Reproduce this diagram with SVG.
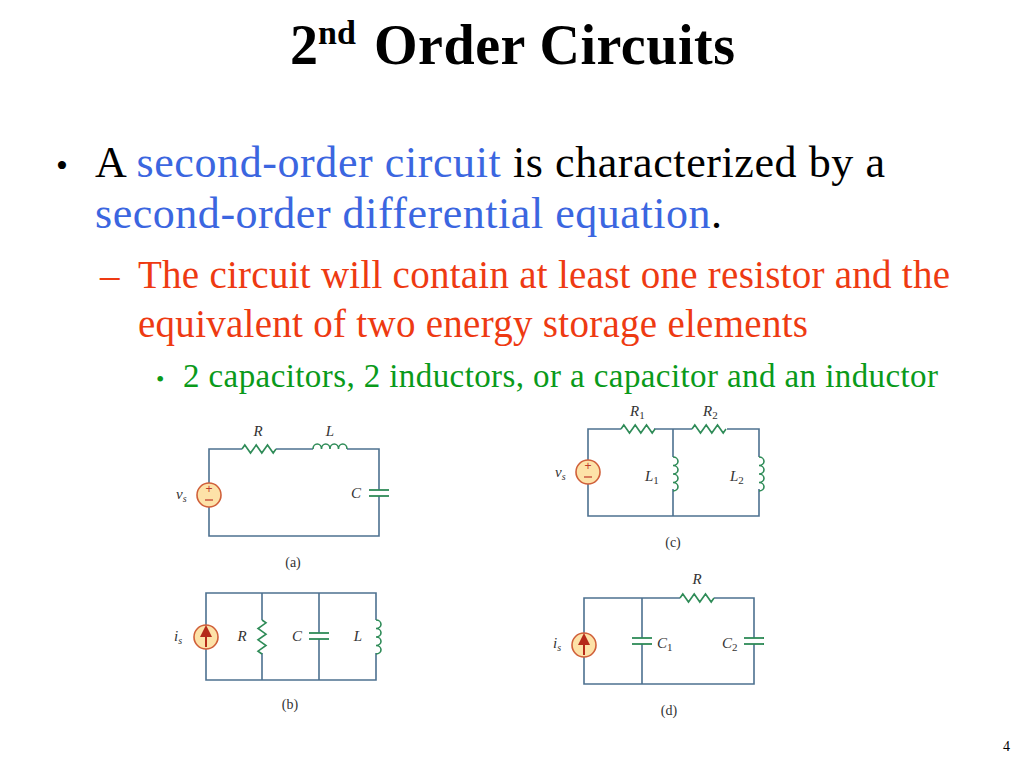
<svg xmlns="http://www.w3.org/2000/svg" width="1024" height="768" viewBox="0 0 1024 768">
<style>
.w{fill:none;stroke:#4d7190;stroke-width:1.6}
.c{fill:none;stroke:#2e8b57;stroke-width:1.6}
.p{stroke:#2e8b57;stroke-width:1.8}
.src{fill:#fde2a8;stroke:#d0603a;stroke-width:1.6}
.lb{font-family:"Liberation Serif",serif;font-style:italic;font-size:15px;fill:#333}
.sb{font-style:normal;font-size:11px}
.cap{font-family:"Liberation Serif",serif;font-size:14px;fill:#333}
.t{font-family:"Liberation Serif",serif}
</style>
<defs>
<path id="res" class="c" d="M0,0 L2.8,-4 L8.5,4 L14.2,-4 L19.8,4 L25.5,-4 L31.2,4 L34,0"/>
<path id="ind" class="c" d="M0,0 a4.25,5 0 0 1 8.5,0 a4.25,5 0 0 1 8.5,0 a4.25,5 0 0 1 8.5,0 a4.25,5 0 0 1 8.5,0"/>
<marker id="ah" markerWidth="6" markerHeight="6" refX="3" refY="3" orient="auto"><path d="M0,0 L6,3 L0,6 Z" fill="#b52a1a"/></marker>
</defs>
<rect width="1024" height="768" fill="#fff"/>
<text class="t" x="290" y="64" font-size="56" font-weight="bold">2<tspan font-size="34" dy="-20">nd</tspan></text>
<text class="t" x="374" y="64" font-size="56" font-weight="bold" textLength="361">Order Circuits</text>
<g class="t" font-size="44">
<text x="56" y="177" font-size="34">•</text>
<text x="95" y="177" textLength="790">A <tspan fill="#3b66e0">second-order circuit</tspan> is characterized by a</text>
<text x="95" y="228" textLength="627"><tspan fill="#3b66e0">second-order differential equation</tspan>.</text>
</g>
<g class="t" font-size="39" fill="#ee3a12">
<text x="100" y="288">–</text>
<text x="138" y="288" textLength="812">The circuit will contain at least one resistor and the</text>
<text x="138" y="337" textLength="670">equivalent of two energy storage elements</text>
</g>
<g class="t" font-size="33" fill="#0a9a1a">
<text x="156" y="387" font-size="24">•</text>
<text x="183" y="387" textLength="755">2 capacitors, 2 inductors, or a capacitor and an inductor</text>
</g>
<text class="t" x="1003" y="751" font-size="14">4</text>

<g id="circuit-a">
<path class="w" d="M209,483 V449 H242 M276,449 H313 M347,449 H379 V490 M379,496 V536 H209 V507"/>
<use href="#res" x="242" y="449"/>
<use href="#ind" x="313" y="449"/>
<line class="p" x1="369" y1="490" x2="389" y2="490"/><line class="p" x1="369" y1="496" x2="389" y2="496"/>
<circle class="src" cx="209" cy="495" r="12"/>
<text x="209" y="493" text-anchor="middle" font-family="Liberation Sans,sans-serif" font-size="12" fill="#c0392b">+</text>
<line x1="205" y1="500" x2="213" y2="500" stroke="#c0392b" stroke-width="1.2"/>
<text class="lb" x="176" y="499">v<tspan font-size="10" dy="3">s</tspan></text>
<text class="lb" x="258" y="436" text-anchor="middle">R</text>
<text class="lb" x="330" y="436" text-anchor="middle">L</text>
<text class="lb" x="356" y="498" text-anchor="middle">C</text>
<text class="cap" x="293" y="567" text-anchor="middle">(a)</text>
</g>

<g id="circuit-c">
<path class="w" d="M588,460 V429 H621 M654,429 H692 M727,429 H759 V457 M759,489 V516 H588 V484 M673,429 V457 M673,489 V516"/>
<use href="#res" x="621" y="429"/>
<use href="#res" x="692" y="429"/>
<use href="#ind" transform="translate(673,457) rotate(90)"/>
<use href="#ind" transform="translate(759,457) rotate(90)"/>
<circle class="src" cx="588" cy="472" r="12"/>
<text x="588" y="470" text-anchor="middle" font-family="Liberation Sans,sans-serif" font-size="12" fill="#c0392b">+</text>
<line x1="584" y1="477" x2="592" y2="477" stroke="#c0392b" stroke-width="1.2"/>
<text class="lb" x="555" y="477">v<tspan font-size="10" dy="3">s</tspan></text>
<text class="lb" x="630" y="416">R<tspan class="sb" dy="3">1</tspan></text>
<text class="lb" x="703" y="416">R<tspan class="sb" dy="3">2</tspan></text>
<text class="lb" x="645" y="481">L<tspan class="sb" dy="3">1</tspan></text>
<text class="lb" x="730" y="481">L<tspan class="sb" dy="3">2</tspan></text>
<text class="cap" x="673" y="547" text-anchor="middle">(c)</text>
</g>

<g id="circuit-b">
<path class="w" d="M206,625 V593 H376 V620 M376,653 V680 H206 V649 M262,593 V620 M262,653 V680 M319,593 V633 M319,639 V680"/>
<use href="#res" transform="translate(262,620) rotate(90)"/>
<use href="#ind" transform="translate(376,620) rotate(90)"/>
<line class="p" x1="309" y1="633" x2="329" y2="633"/><line class="p" x1="309" y1="639" x2="329" y2="639"/>
<circle class="src" cx="206" cy="637" r="12"/>
<line x1="206" y1="647" x2="206" y2="631" stroke="#b52a1a" stroke-width="2" marker-end="url(#ah)"/>
<text class="lb" x="174" y="641">i<tspan font-size="10" dy="3">s</tspan></text>
<text class="lb" x="242" y="641" text-anchor="middle">R</text>
<text class="lb" x="297" y="641" text-anchor="middle">C</text>
<text class="lb" x="358" y="641" text-anchor="middle">L</text>
<text class="cap" x="290" y="709" text-anchor="middle">(b)</text>
</g>

<g id="circuit-d">
<path class="w" d="M584,633 V598 H680 M714,598 H754 V638 M754,644 V684 H584 V657 M642,598 V638 M642,644 V684"/>
<use href="#res" x="680" y="598"/>
<line class="p" x1="632" y1="638" x2="652" y2="638"/><line class="p" x1="632" y1="644" x2="652" y2="644"/>
<line class="p" x1="744" y1="638" x2="764" y2="638"/><line class="p" x1="744" y1="644" x2="764" y2="644"/>
<circle class="src" cx="584" cy="645" r="12"/>
<line x1="584" y1="655" x2="584" y2="639" stroke="#b52a1a" stroke-width="2" marker-end="url(#ah)"/>
<text class="lb" x="553" y="648">i<tspan font-size="10" dy="3">s</tspan></text>
<text class="lb" x="697" y="584" text-anchor="middle">R</text>
<text class="lb" x="657" y="648">C<tspan class="sb" dy="3">1</tspan></text>
<text class="lb" x="722" y="648">C<tspan class="sb" dy="3">2</tspan></text>
<text class="cap" x="669" y="715" text-anchor="middle">(d)</text>
</g>
</svg>
